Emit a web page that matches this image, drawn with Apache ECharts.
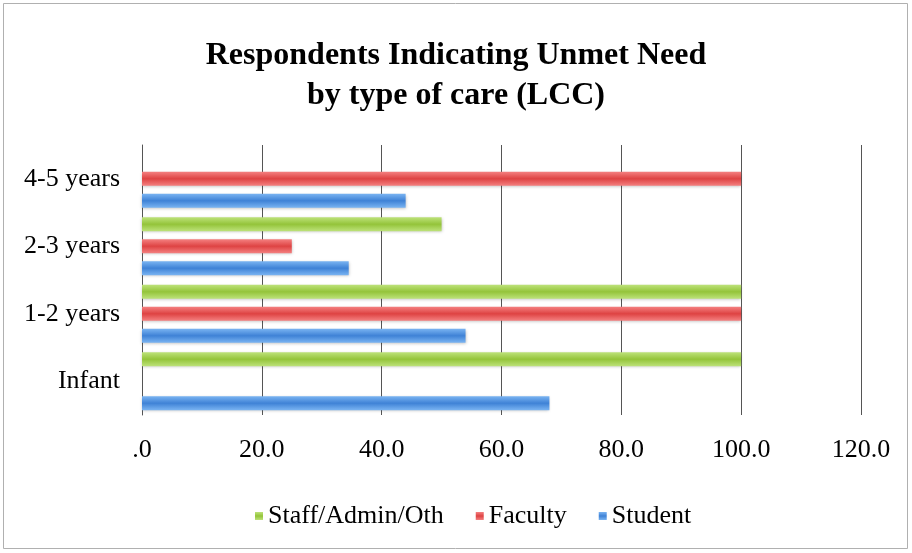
<!DOCTYPE html>
<html lang="en">
<head>
	<meta charset="UTF-8">
	<title>Respondents Indicating Unmet Need</title>
	<script src="https://cdn.jsdelivr.net/npm/echarts@6/dist/echarts.min.js"></script>
	<style>
		body { margin: 0; background: #fff; }
	</style>
</head>
<body>
	<div id="main" style="width: 912px;height:553px;"></div>
	<script type="text/javascript">
		// categories, bottom to top
		var careTypes = ['Infant', '1-2 years', '2-3 years', '4-5 years'];
		// values (percent)
		var student = [68, 54, 34.5, 44];
		var faculty = [0, 100, 25, 100];
		var staff = [100, 100, 50, 0];
		var xTicks = [0, 20, 40, 60, 80, 100, 120];

		var serif = '"Liberation Serif", "DejaVu Serif", serif';

		function grad(top, bottom) {
			return new echarts.graphic.LinearGradient(0, 0, 0, 1, [
				{ offset: 0, color: top },
				{ offset: 0.5, color: bottom },
				{ offset: 1, color: top }
			]);
		}

		var myChart = echarts.init(document.getElementById('main'));

		function barSeries(name, values, top, bottom) {
			return {
				name: name,
				type: 'bar',
				data: values,
				barWidth: 14,
				barGap: '57%',
				itemStyle: {
					color: grad(top, bottom),
					shadowBlur: 3,
					shadowColor: 'rgba(0,0,0,0.25)',
					shadowOffsetY: 1
				}
			};
		}

		var option = {
			backgroundColor: '#fff',
			animation: false,
			title: {
				text: 'Respondents Indicating Unmet Need\nby type of care (LCC)',
				left: 'center',
				top: 31,
				textStyle: {
					fontFamily: serif,
					fontWeight: 'bold',
					fontSize: 32,
					lineHeight: 40,
					color: '#000'
				}
			},
			graphic: [{
				type: 'rect',
				shape: { x: 3.5, y: 3.5, width: 904, height: 545 },
				style: { fill: null, stroke: '#b0b0b0', lineWidth: 1 },
				silent: true
			}],
			legend: {
				bottom: 19,
				left: 250,
				itemWidth: 8,
				itemHeight: 8,
				itemGap: 32,
				icon: 'rect',
				data: ['Staff/Admin/Oth', 'Faculty', 'Student'],
				textStyle: { fontFamily: serif, fontSize: 26, color: '#000' }
			},
			grid: {
				left: 142,
				right: 51,
				top: 145,
				bottom: 138
			},
			xAxis: {
				type: 'value',
				min: xTicks[0],
				max: xTicks[xTicks.length - 1],
				interval: 20,
				axisLine: { show: false },
				axisTick: { show: false },
				splitLine: { lineStyle: { color: '#555', width: 1 } },
				axisLabel: {
					margin: 22,
					fontFamily: serif,
					fontSize: 26,
					color: '#000',
					formatter: function (v) {
						return v === 0 ? '.0' : v.toFixed(1);
					}
				}
			},
			yAxis: {
				type: 'category',
				data: careTypes,
				axisLine: { show: true, lineStyle: { color: '#555' } },
				axisTick: { show: false },
				axisLabel: {
					margin: 22,
					fontFamily: serif,
					fontSize: 26,
					color: '#000'
				}
			},
			// first series is drawn at the top of each band
			series: [
				barSeries('Staff/Admin/Oth', staff, '#bde27a', '#94c43a'),
				barSeries('Faculty', faculty, '#f48080', '#de4343'),
				barSeries('Student', student, '#7ab4f2', '#3f82d6')
			]
		};
		myChart.setOption(option);
	</script>
</body>
</html>
